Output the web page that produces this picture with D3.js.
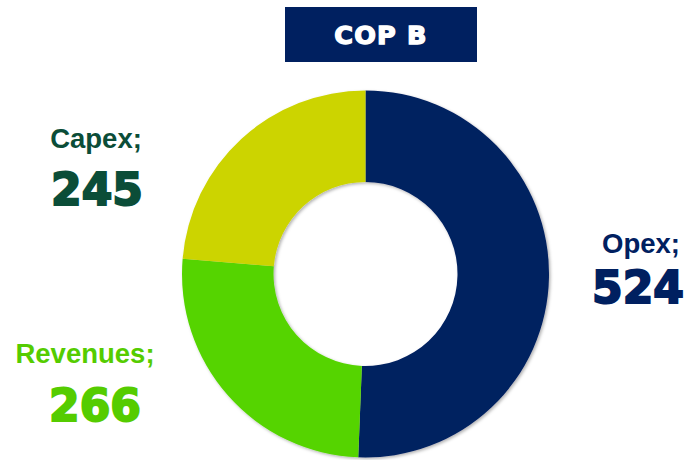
<!DOCTYPE html>
<html>
<head>
<meta charset="utf-8">
<script src="https://cdn.jsdelivr.net/npm/d3@7"></script>
<style>
  body { margin: 0; background: #fff; }
  text { font-weight: bold; }
  .name { font-family: "Liberation Sans", Arial, sans-serif; }
  .num, .title { font-family: "DejaVu Sans", sans-serif; }
</style>
</head>
<body>
<div id="chart"></div>
<script>
// data
var categories = ['Opex', 'Revenues', 'Capex'];
var values = [524, 266, 245];
var colors = ['#002060', '#55d400', '#ccd400'];
var labelColors = ['#002060', '#55cc00', '#0b4d38'];
var title = 'COP B';

var width = 689, height = 460;
var cx = 365.5, cy = 274,
    outerR = 183.5, innerR = 92;

var svg = d3.select('#chart')
    .append('svg')
    .attr('width', width)
    .attr('height', height);

// soft shadow under the ring
var defs = svg.append('defs');
var f = defs.append('filter').attr('id', 'shadow')
    .attr('x', '-10%').attr('y', '-10%').attr('width', '120%').attr('height', '120%');
f.append('feDropShadow')
    .attr('dx', 1.5).attr('dy', 1.5)
    .attr('stdDeviation', 1.5)
    .attr('flood-color', '#000')
    .attr('flood-opacity', 0.3);

// title box
svg.append('rect')
    .attr('x', 285).attr('y', 7)
    .attr('width', 192).attr('height', 55)
    .attr('fill', '#002060');
svg.append('text')
    .attr('class', 'title')
    .attr('x', 381).attr('y', 44)
    .attr('text-anchor', 'middle')
    .attr('fill', '#fff')
    .attr('stroke', '#fff').attr('stroke-width', 1.4)
    .style('font-size', '25.5px')
    .style('letter-spacing', '1.2px')
    .text(title);

// donut
var pie = d3.pie().sort(null).startAngle(0).endAngle(2 * Math.PI);
var arc = d3.arc().innerRadius(innerR).outerRadius(outerR);

var g = svg.append('g')
    .attr('transform', 'translate(' + cx + ',' + cy + ')')
    .attr('filter', 'url(#shadow)');

g.selectAll('path')
    .data(pie(values))
    .enter()
    .append('path')
    .attr('d', arc)
    .attr('fill', function (d, i) { return colors[i]; });

// labels (name; / value)
var labelPos = [
    {x1: 641, y1: 253, x2: 638, y2: 303},
    {x1: 85, y1: 363, x2: 95, y2: 421},
    {x1: 96, y1: 148, x2: 97, y2: 205}
];

var labels = svg.selectAll('.label')
    .data(categories)
    .enter()
    .append('g')
    .attr('class', 'label');

labels.append('text')
    .attr('class', 'name')
    .attr('x', function (d, i) { return labelPos[i].x1; })
    .attr('y', function (d, i) { return labelPos[i].y1; })
    .attr('text-anchor', 'middle')
    .attr('fill', function (d, i) { return labelColors[i]; })
    .style('font-size', '27.5px')
    .text(function (d) { return d + ';'; });

labels.append('text')
    .attr('class', 'num')
    .attr('x', function (d, i) { return labelPos[i].x2; })
    .attr('y', function (d, i) { return labelPos[i].y2; })
    .attr('text-anchor', 'middle')
    .attr('fill', function (d, i) { return labelColors[i]; })
    .attr('stroke', function (d, i) { return labelColors[i]; })
    .attr('stroke-width', 2)
    .style('font-size', '44px')
    .text(function (d, i) { return values[i]; });
</script>
</body>
</html>
